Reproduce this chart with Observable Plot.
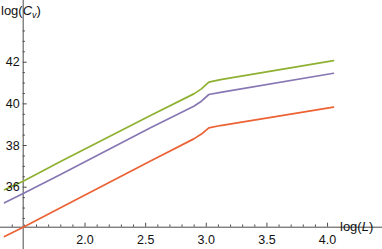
<!DOCTYPE html>
<html><head><meta charset="utf-8">
<script src="https://cdn.jsdelivr.net/npm/d3@7"></script>
<script src="https://cdn.jsdelivr.net/npm/@observablehq/plot@0.6"></script>
<style>body{margin:0;background:#fff} svg{display:block} #chart{width:382px;height:249px}</style>
</head><body><div id="chart"></div>
<script>
// ---- data ----
const logL   = [1.336, 1.49, 1.798, 2.54, 2.897, 2.96, 3.021, 3.117, 4.049];
const seriesA = [35.88, 36.29, 37.23, 39.44, 40.48, 40.72, 41.04, 41.16, 42.08]; // green
const seriesB = [35.25, 35.70, 36.61, 38.85, 39.89, 40.13, 40.45, 40.55, 41.47]; // purple
const seriesC = [33.63, 34.08, 35.01, 37.26, 38.32, 38.55, 38.85, 38.96, 39.84]; // orange
const seriesNames  = ["A", "B", "C"];
const seriesColors = ["#8FB131", "#8778B3", "#EB6235"];

const xTickValues = [2.0, 2.5, 3.0, 3.5, 4.0];
const xTickLabels = ["2.0", "2.5", "3.0", "3.5", "4.0"];
const yTickValues = [36, 38, 40, 42];
const yTickLabels = ["36", "38", "40", "42"];
const xMinorTicks = d3.range(14, 41).map(d => d / 10).filter(v => !xTickValues.some(t => Math.abs(t - v) < 1e-9));
const yMinorTicks = d3.range(69, 88).map(d => d / 2).filter(v => !yTickValues.includes(v));
const axisOrigin = {x: 1.49, y: 34.08};

// ---- layout ----
const W = 382, H = 249;
const xDomain = [1.336, 4.049], xRange = [4, 333];
const yDomain = [33.36, 43.81], yRange = [241.7, 24];
const ux = (xDomain[1] - xDomain[0]) / (xRange[1] - xRange[0]); // data per px
const uy = (yDomain[1] - yDomain[0]) / (yRange[0] - yRange[1]);

const rows = [];
seriesNames.forEach((s, k) => {
  const vals = [seriesA, seriesB, seriesC][k];
  logL.forEach((x, i) => rows.push({series: s, x, y: vals[i]}));
});

const axisColor = "#4a4a4a";
const font = "'Liberation Sans', Arial, sans-serif";

const chart = Plot.plot({
  width: W, height: H,
  marginLeft: 0, marginRight: 0, marginTop: 0, marginBottom: 0,
  style: {fontFamily: font, fontSize: "12px", background: "white", overflow: "visible"},
  x: {domain: xDomain, range: xRange, axis: null},
  y: {domain: yDomain, range: yRange, axis: null},
  color: {type: "ordinal", domain: seriesNames, range: seriesColors},
  marks: [
    Plot.ruleY([axisOrigin.y], {stroke: axisColor, strokeWidth: 1}),
    Plot.ruleX([axisOrigin.x], {stroke: axisColor, strokeWidth: 1}),
    Plot.ruleX(xTickValues, {x: d => d, y1: axisOrigin.y, y2: axisOrigin.y + 4 * uy, stroke: axisColor}),
    Plot.ruleX(xMinorTicks, {x: d => d, y1: axisOrigin.y, y2: axisOrigin.y + 2.2 * uy, stroke: axisColor}),
    Plot.ruleY(yTickValues, {y: d => d, x1: axisOrigin.x, x2: axisOrigin.x + 4 * ux, stroke: axisColor}),
    Plot.ruleY(yMinorTicks, {y: d => d, x1: axisOrigin.x, x2: axisOrigin.x + 2.2 * ux, stroke: axisColor}),
    Plot.line(rows, {x: "x", y: "y", z: "series", stroke: "series", strokeWidth: 1.7, curve: "linear"}),
    Plot.text(xTickValues, {x: d => d, y: axisOrigin.y, text: (d, i) => xTickLabels[i], dy: 12.8, fill: "#111", fontSize: 12.5}),
    Plot.text(yTickValues, {x: axisOrigin.x, y: d => d, text: (d, i) => yTickLabels[i], dx: -3.5, textAnchor: "end", fill: "#111", fontSize: 12.5})
  ]
});
document.getElementById("chart").appendChild(chart);

// axis labels with italic variables and subscript
const svg = d3.select(chart);
const xs = chart.scale("x"), ys = chart.scale("y");
const yl = svg.append("text").attr("x", 1).attr("y", ys.apply(yDomain[1]) - 9.5)
  .attr("text-anchor", "start").attr("font-family", font).attr("font-size", 13).attr("fill", "#111");
yl.append("tspan").text("log(");
yl.append("tspan").attr("font-style", "italic").text("C");
yl.append("tspan").attr("font-style", "italic").attr("font-size", 9).attr("dy", 3).text("v");
yl.append("tspan").attr("dy", -3).text(")");

const xl = svg.append("text").attr("x", xs.apply(xDomain[1]) + 7).attr("y", ys.apply(axisOrigin.y) + 4)
  .attr("text-anchor", "start").attr("font-family", font).attr("font-size", 13).attr("fill", "#111");
xl.append("tspan").text("log(");
xl.append("tspan").attr("font-style", "italic").text("L");
xl.append("tspan").text(")");
</script>
</body></html>
